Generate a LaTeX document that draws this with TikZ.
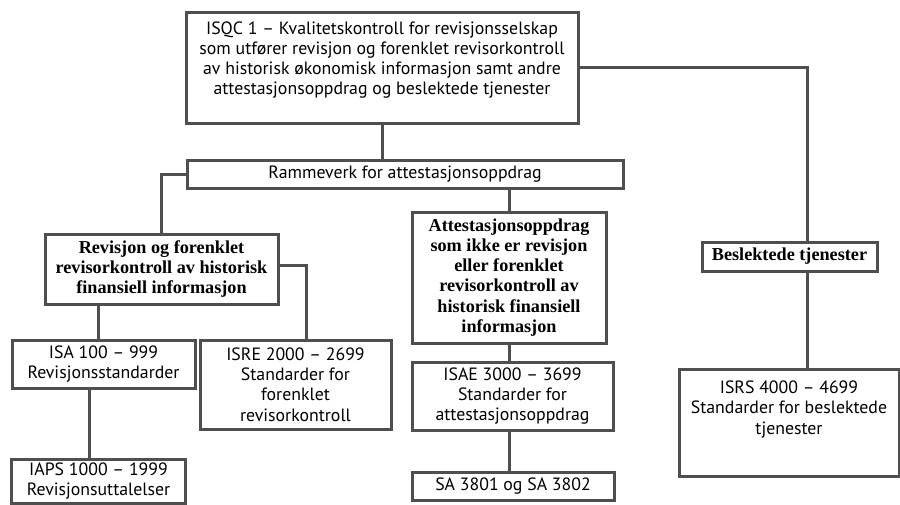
\documentclass[tikz,border=0pt]{standalone}
\usepackage{fontspec}
\setmainfont{Liberation Serif}
\setsansfont{PT Sans}
\definecolor{linegray}{HTML}{4F4F4F}
\setlength{\lineskiplimit}{-6pt}
\begin{document}
\begin{tikzpicture}
[
x = 1pt, y = -1pt,
box/.style = {draw=linegray, line width=3pt, inner sep=0pt, align=center,
    font=\sffamily\fontsize{17.8}{20.2}\selectfont},
head/.style = {box, font=\bfseries\fontsize{18.2}{20.2}\selectfont},
link/.style = {draw=linegray, line width=3pt}
]
\useasboundingbox (0,0) rectangle (900,504);

\node [box, minimum width=392, minimum height=111] (isqc) at (382,67.5)
    {\parbox[c][92pt][t]{388pt}{\centering ISQC 1 -- Kvalitetskontroll for revisjonsselskap\par
     som utfører revisjon og forenklet revisorkontroll\par
     av historisk økonomisk informasjon samt andre\par
     attestasjonsoppdrag og beslektede tjenester}};
\node [box, minimum width=436, minimum height=28] (ramme) at (405,174) {Rammeverk for attestasjonsoppdrag};
\node [head, minimum width=233, minimum height=70] (revfin) at (161.5,269)
    {Revisjon og forenklet\\ revisorkontroll av historisk\\ finansiell informasjon};
\node [head, minimum width=194, minimum height=131] (attest) at (509,277.5)
    {Attestasjonsoppdrag\\ som ikke er revisjon\\ eller forenklet\\ revisorkontroll av\\ historisk finansiell\\ informasjon};
\node [head, minimum width=175, minimum height=29] (beslekt) at (789.5,256.5) {Beslektede tjenester};
\node [box, minimum width=183, minimum height=48] (isa) at (103.5,364) {ISA 100 -- 999\\ Revisjonsstandarder};
\node [box, minimum width=191, minimum height=89] (isre) at (295.5,384.5)
    {ISRE 2000 -- 2699\\ Standarder for\\ forenklet\\ revisorkontroll};
\node [box, minimum width=201, minimum height=68] (isae) at (512.5,396)
    {ISAE 3000 -- 3699\\ Standarder for\\ attestasjonsoppdrag};
\node [box, minimum width=202, minimum height=28] (sa) at (513,486) {SA 3801 og SA 3802};
\node [box, minimum width=220, minimum height=107] (isrs) at (789,422.5)
    {\parbox[c][83pt][t]{214pt}{\centering ISRS 4000 -- 4699\par Standarder for beslektede\par tjenester}};
\node [box, minimum width=174, minimum height=44] (iaps) at (98.5,481) {IAPS 1000 -- 1999\\ Revisjonsuttalelser};

\coordinate (tjtrunk) at (807,0);
\coordinate (isrejoin) at (306,265);
\coordinate (isajoin) at (98,0);
\coordinate (iapsjoin) at (89,0);

\draw [link] (isqc.south) -- (isqc.south |- ramme.north);
\draw [link] (isqc.east) -| (tjtrunk |- beslekt.north);
\draw [link] (tjtrunk |- beslekt.south) -- (tjtrunk |- isrs.north);
\draw [link] (ramme.west) -| (revfin.north);
\draw [link] (ramme.south -| attest.north) -- (attest.north);
\draw [link] (revfin.east |- isrejoin) -| (isre.north -| isrejoin);
\draw [link] (revfin.south -| isajoin) -- (isa.north -| isajoin);
\draw [link] (isa.south -| iapsjoin) -- (iaps.north -| iapsjoin);
\draw [link] (attest.south) -- (isae.north -| attest.south);
\draw [link] (isae.south -| attest.south) -- (sa.north -| attest.south);
\end{tikzpicture}
\end{document}
